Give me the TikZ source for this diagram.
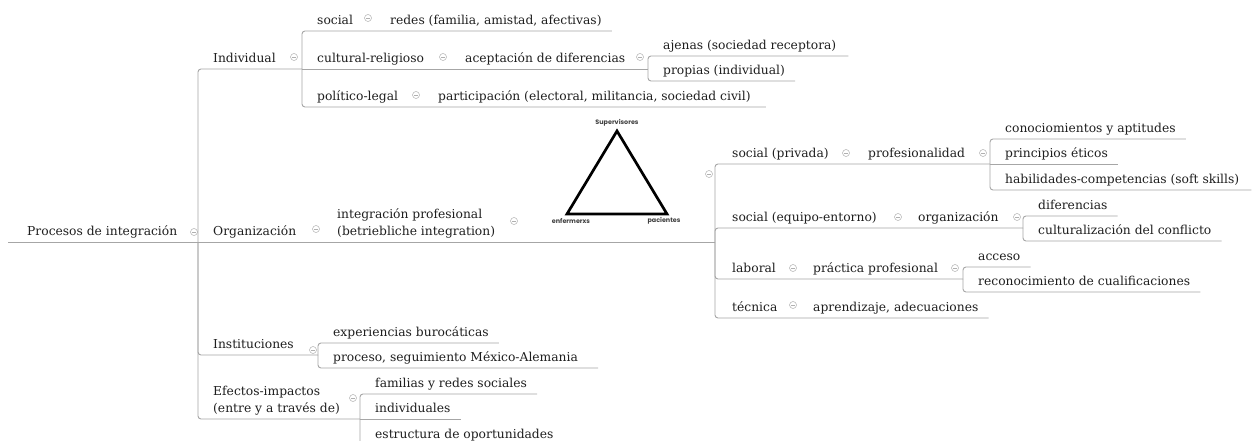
\documentclass[tikz,border=0pt]{standalone}
\usepackage{fontspec}
\setmainfont{DejaVu Serif}
\newfontfamily\labfont{Poppins}
\usetikzlibrary{calc}
\definecolor{lnc}{HTML}{A6A6A6}
\definecolor{txc}{HTML}{1F1F1F}
\definecolor{mkc}{HTML}{B0B0B0}
\begin{document}
\begin{tikzpicture}[x=1pt,y=-1pt,
  t/.style={anchor=south west, inner sep=0pt, text depth=6.5pt, font=\fontsize{12.3}{17}\selectfont, text=txc, align=left},
  ln/.style={draw=lnc, line width=0.9pt, rounded corners=3pt},
  mk/.style={circle, draw=mkc, line width=0.5pt, minimum size=7pt, inner sep=0pt,
    path picture={\draw[mkc, line width=0.5pt] ([xshift=-2pt]path picture bounding box.center) -- ([xshift=2pt]path picture bounding box.center);}},
  tri/.style={font=\labfont\bfseries\fontsize{6.4}{7}\selectfont, text=black!75, inner sep=0pt},
]
\fill[white] (0,0) rectangle (1255,441);
\clip (0,0) rectangle (1255,441);

% root
\node[t] (root) at (27,242) {Procesos de integración};
\node[mk] (mroot) at (194,232) {};
\coordinate (Jroot) at (198,242);

% level 1
\node[t] (ind) at (213,69) {Individual};
\node[mk] (mind) at (294,57) {};
\node[t] (org) at (213,242) {Organización};
\node[mk] (morg) at (316,229) {};
\node[t] (ins) at (213,355) {Instituciones};
\node[mk] (mins) at (313,350) {};
\node[t] (efe) at (213,419) {Efectos-impactos\\(entre y a través de)};
\node[mk] (mefe) at (353,398) {};

% Individual subtree
\coordinate (Jind) at (302,69);
\node[t] (soc) at (317,31) {social};
\node[mk] (msoc) at (368,18) {};
\node[t] (redes) at (390,31) {redes (familia, amistad, afectivas)};
\node[t] (cul) at (317,69) {cultural-religioso};
\node[mk] (mcul) at (443,57) {};
\node[t] (acep) at (465,69) {aceptación de diferencias};
\node[mk] (macep) at (640,57) {};
\coordinate (Jacep) at (648,69);
\node[t] (aje) at (663,56) {ajenas (sociedad receptora)};
\node[t] (pro) at (663,81) {propias (individual)};
\node[t] (pol) at (317,107) {político-legal};
\node[mk] (mpol) at (416,95) {};
\node[t] (part) at (438,107) {participación (electoral, militancia, sociedad civil)};

% Organizacion subtree
\node[t] (integ) at (337,242) {integración profesional\\(betriebliche integration)};
\node[mk] (minteg) at (514,221) {};
\coordinate (tA) at (617,131);
\coordinate (tB) at (567,214);
\coordinate (tC) at (667,214);
\draw[line width=2.7pt, line join=miter] (tA) -- (tB) -- (tC) -- cycle;
\node[tri] (lsup) at (617,123) {Supervisores};
\node[tri] (lenf) at (571,221) {enfermerxs};
\node[tri] (lpac) at (664,221) {pacientes};
\node[mk] (mtri) at (709,174) {};
\coordinate (Jorg) at (715,242);

\node[t] (sp) at (732,164) {social (privada)};
\node[mk] (msp) at (846,153) {};
\node[t] (prof) at (868,164) {profesionalidad};
\node[mk] (mprof) at (983,153) {};
\coordinate (Jprof) at (990,164);
\node[t] (con) at (1005,139) {conociomientos y aptitudes};
\node[t] (pri) at (1005,164) {principios éticos};
\node[t] (hab) at (1005,190) {habilidades-competencias (soft skills)};

\node[t] (se) at (732,228) {social (equipo-entorno)};
\node[mk] (mse) at (898,217) {};
\node[t] (orgz) at (918,228) {organización};
\node[mk] (morgz) at (1017,217) {};
\coordinate (Jorgz) at (1023,228);
\node[t] (dif) at (1038,216) {diferencias};
\node[t] (clt) at (1038,241) {culturalización del conflicto};

\node[t] (lab) at (732,279) {laboral};
\node[mk] (mlab) at (793,268) {};
\node[t] (prac) at (813,279) {práctica profesional};
\node[mk] (mprac) at (955,268) {};
\coordinate (Jprac) at (963,279);
\node[t] (acc) at (978,267) {acceso};
\node[t] (rec) at (978,292) {reconocimiento de cualificaciones};

\node[t] (tec) at (732,318) {técnica};
\node[mk] (mtec) at (793,305) {};
\node[t] (apr) at (813,318) {aprendizaje, adecuaciones};

% Instituciones subtree
\coordinate (Jins) at (318,355);
\node[t] (exp) at (333,343) {experiencias burocáticas};
\node[t] (proc) at (333,368) {proceso, seguimiento México-Alemania};

% Efectos subtree
\coordinate (Jefe) at (360,419);
\node[t] (fam) at (375,394) {familias y redes sociales};
\node[t] (indv) at (375,419) {individuales};
\node[t] (est) at (375,445) {estructura de oportunidades};

% connectors
\draw[ln] ([xshift=-19pt]root.south west) -- (Jroot);
\draw[ln] (Jroot) |- (Jind);
\draw[ln] (Jroot) -- (Jorg);
\draw[ln] (Jroot) |- (Jins);
\draw[ln] (Jroot) |- (Jefe);

\draw[ln] (Jind) |- ([xshift=10pt]redes.south east);
\draw[ln] (Jind) -- (Jacep);
\draw[ln] (Jind) |- ([xshift=15pt]part.south east);
\draw[ln] (Jacep) |- ([xshift=12pt]aje.south east);
\draw[ln] (Jacep) |- ([xshift=10pt]pro.south east);

\draw[ln] (Jorg) |- (Jprof);
\draw[ln] (Jorg) |- (Jorgz);
\draw[ln] (Jorg) |- (Jprac);
\draw[ln] (Jorg) |- ([xshift=10pt]apr.south east);
\draw[ln] (Jprof) |- ([xshift=10pt]con.south east);
\draw[ln] (Jprof) -- ([xshift=10pt]pri.south east);
\draw[ln] (Jprof) |- ([xshift=12pt]hab.south east);
\draw[ln] (Jorgz) |- ([xshift=10pt]dif.south east);
\draw[ln] (Jorgz) |- ([xshift=10pt]clt.south east);
\draw[ln] (Jprac) |- ([xshift=10pt]acc.south east);
\draw[ln] (Jprac) |- ([xshift=10pt]rec.south east);

\draw[ln] (Jins) |- ([xshift=10pt]exp.south east);
\draw[ln] (Jins) |- ([xshift=20pt]proc.south east);
\draw[ln] (Jefe) |- ([xshift=10pt]fam.south east);
\draw[ln] (Jefe) -- ([xshift=10pt]indv.south east);
\draw[ln] (Jefe) |- ([xshift=10pt]est.south east);
\end{tikzpicture}
\end{document}
